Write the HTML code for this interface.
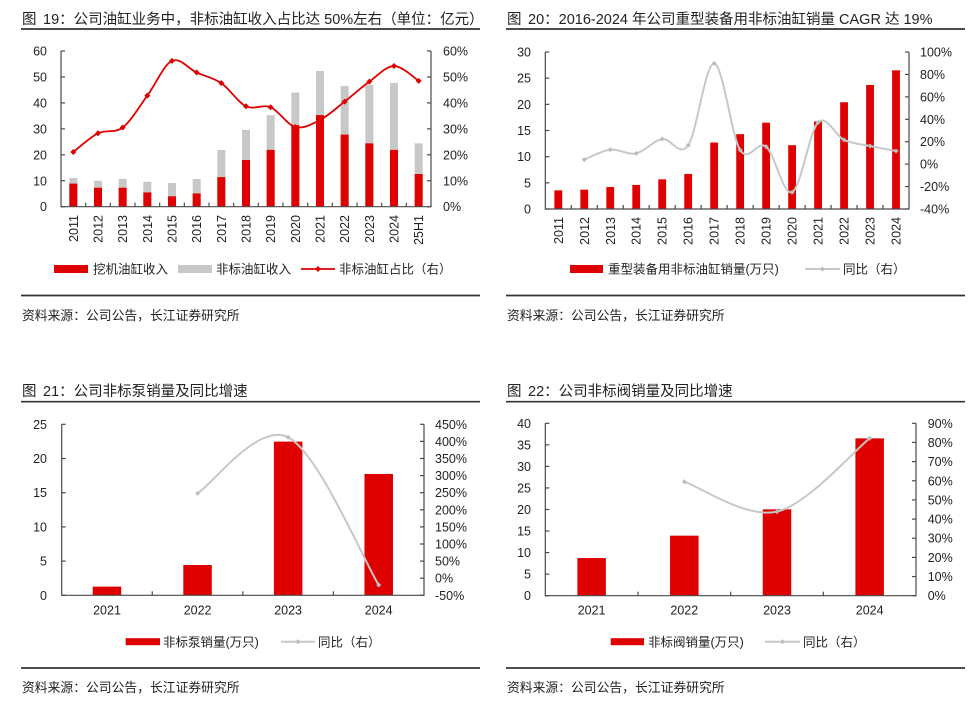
<!DOCTYPE html>
<html><head><meta charset="utf-8">
<style>
html,body{margin:0;padding:0;background:#fff;}
svg{display:block;font-family:"Liberation Sans","Noto Sans CJK SC",sans-serif;}
text{fill:#222;}
.t{font-size:14.5px;}
.a{font-size:12.5px;}
.s{font-size:12.8px;}
</style></head><body>
<svg id="g" width="971" height="706" viewBox="0 0 971 706">
<rect width="971" height="706" fill="#fff"/>
<!-- Titles -->
<text class="t" x="22" y="24">图</text><text class="t" x="43" y="24">19：公司油缸业务中，非标油缸收入占比达 50%左右（单位：亿元）</text>
<text class="t" x="507" y="24">图</text><text class="t" x="528" y="24">20：2016-2024 年公司重型装备用非标油缸销量 CAGR 达 19%</text>
<text class="t" x="22" y="396">图</text><text class="t" x="43" y="396">21：公司非标泵销量及同比增速</text>
<text class="t" x="507" y="396">图</text><text class="t" x="528" y="396">22：公司非标阀销量及同比增速</text>
<g stroke="#333" stroke-width="1.7">
<line x1="21" y1="29" x2="480" y2="29"/><line x1="506" y1="29" x2="965" y2="29"/>
<line x1="21" y1="401.7" x2="480" y2="401.7"/><line x1="506" y1="401.7" x2="965" y2="401.7"/>
<line x1="21" y1="295.5" x2="480" y2="295.5"/><line x1="506" y1="295.5" x2="965" y2="295.5"/>
<line x1="21" y1="668" x2="480" y2="668"/><line x1="506" y1="668" x2="965" y2="668"/>
</g>
<text class="s" x="22" y="320">资料来源：公司公告，长江证券研究所</text>
<text class="s" x="507" y="320">资料来源：公司公告，长江证券研究所</text>
<text class="s" x="22" y="692">资料来源：公司公告，长江证券研究所</text>
<text class="s" x="507" y="692">资料来源：公司公告，长江证券研究所</text>

<!-- Chart 1 axis labels -->
<g class="a" text-anchor="end">
<text x="47" y="211.2">0</text><text x="47" y="185.25">10</text><text x="47" y="159.3">20</text><text x="47" y="133.35">30</text><text x="47" y="107.4">40</text><text x="47" y="81.45">50</text><text x="47" y="55.5">60</text>
</g>
<g class="a">
<text x="443" y="211.2">0%</text><text x="443" y="185.25">10%</text><text x="443" y="159.3">20%</text><text x="443" y="133.35">30%</text><text x="443" y="107.4">40%</text><text x="443" y="81.45">50%</text><text x="443" y="55.5">60%</text>
</g>
<g class="a" text-anchor="end">
<text transform="translate(77.8,215) rotate(-90)">2011</text>
<text transform="translate(102.5,215) rotate(-90)">2012</text>
<text transform="translate(127.2,215) rotate(-90)">2013</text>
<text transform="translate(151.8,215) rotate(-90)">2014</text>
<text transform="translate(176.5,215) rotate(-90)">2015</text>
<text transform="translate(201.2,215) rotate(-90)">2016</text>
<text transform="translate(225.8,215) rotate(-90)">2017</text>
<text transform="translate(250.5,215) rotate(-90)">2018</text>
<text transform="translate(275.2,215) rotate(-90)">2019</text>
<text transform="translate(299.8,215) rotate(-90)">2020</text>
<text transform="translate(324.5,215) rotate(-90)">2021</text>
<text transform="translate(349.2,215) rotate(-90)">2022</text>
<text transform="translate(373.8,215) rotate(-90)">2023</text>
<text transform="translate(398.5,215) rotate(-90)">2024</text>
<text transform="translate(423.2,215) rotate(-90)">25H1</text>
</g>
<!-- Chart 1 legend -->
<rect x="54" y="265" width="34" height="8" fill="#df0000"/>
<text class="a" x="93" y="273.7">挖机油缸收入</text>
<rect x="178" y="265" width="34" height="8" fill="#c8c8c8"/>
<text class="a" x="216" y="273.7">非标油缸收入</text>
<line x1="301" y1="269" x2="335" y2="269" stroke="#df0000" stroke-width="1.8"/>
<path d="M318,266L321,269L318,272L315,269Z" fill="#df0000"/>
<text class="a" x="339" y="273.7">非标油缸占比（右）</text>

<!-- Chart 2 axis labels -->
<g class="a" text-anchor="end">
<text x="531" y="213.5">0</text><text x="531" y="187.3">5</text><text x="531" y="161.2">10</text><text x="531" y="135">15</text><text x="531" y="108.8">20</text><text x="531" y="82.7">25</text><text x="531" y="56.5">30</text>
</g>
<g class="a">
<text x="920" y="213.5">-40%</text><text x="920" y="191.1">-20%</text><text x="920" y="168.6">0%</text><text x="920" y="146.2">20%</text><text x="920" y="123.8">40%</text><text x="920" y="101.4">60%</text><text x="920" y="78.9">80%</text><text x="920" y="56.5">100%</text>
</g>
<g class="a" text-anchor="end">
<text transform="translate(562.8,217) rotate(-90)">2011</text>
<text transform="translate(588.8,217) rotate(-90)">2012</text>
<text transform="translate(614.8,217) rotate(-90)">2013</text>
<text transform="translate(640.7,217) rotate(-90)">2014</text>
<text transform="translate(666.7,217) rotate(-90)">2015</text>
<text transform="translate(692.7,217) rotate(-90)">2016</text>
<text transform="translate(718.7,217) rotate(-90)">2017</text>
<text transform="translate(744.7,217) rotate(-90)">2018</text>
<text transform="translate(770.6,217) rotate(-90)">2019</text>
<text transform="translate(796.6,217) rotate(-90)">2020</text>
<text transform="translate(822.6,217) rotate(-90)">2021</text>
<text transform="translate(848.6,217) rotate(-90)">2022</text>
<text transform="translate(874.6,217) rotate(-90)">2023</text>
<text transform="translate(900.5,217) rotate(-90)">2024</text>
</g>
<rect x="570" y="265" width="33" height="8" fill="#df0000"/>
<text class="a" x="608" y="273.7">重型装备用非标油缸销量(万只)</text>
<line x1="805" y1="269" x2="840" y2="269" stroke="#c8c8c8" stroke-width="2"/>
<path d="M822.5,266.5L825,269L822.5,271.5L820,269Z" fill="#bdbdbd"/>
<text class="a" x="843" y="273.7">同比（右）</text>

<!-- Chart 3 axis labels -->
<g class="a" text-anchor="end">
<text x="47" y="599.8">0</text><text x="47" y="565.6">5</text><text x="47" y="531.4">10</text><text x="47" y="497.2">15</text><text x="47" y="463">20</text><text x="47" y="428.8">25</text>
</g>
<g class="a">
<text x="435" y="599.8">-50%</text><text x="435" y="582.7">0%</text><text x="435" y="565.6">50%</text><text x="435" y="548.5">100%</text><text x="435" y="531.4">150%</text><text x="435" y="514.3">200%</text><text x="435" y="497.2">250%</text><text x="435" y="480.1">300%</text><text x="435" y="463">350%</text><text x="435" y="445.9">400%</text><text x="435" y="428.8">450%</text>
</g>
<g class="a" text-anchor="middle">
<text x="107" y="614.5">2021</text><text x="197.6" y="614.5">2022</text><text x="288.1" y="614.5">2023</text><text x="378.7" y="614.5">2024</text>
</g>
<rect x="125.7" y="638.2" width="34.3" height="7" fill="#df0000"/>
<text class="a" x="163" y="646.4">非标泵销量(万只)</text>
<line x1="281" y1="641.7" x2="315" y2="641.7" stroke="#c8c8c8" stroke-width="2"/>
<path d="M298,639.2L300.5,641.7L298,644.2L295.5,641.7Z" fill="#bdbdbd"/>
<text class="a" x="318" y="646.4">同比（右）</text>

<!-- Chart 4 axis labels -->
<g class="a" text-anchor="end">
<text x="531" y="600.2">0</text><text x="531" y="578.65">5</text><text x="531" y="557.1">10</text><text x="531" y="535.55">15</text><text x="531" y="514">20</text><text x="531" y="492.45">25</text><text x="531" y="470.9">30</text><text x="531" y="449.35">35</text><text x="531" y="427.8">40</text>
</g>
<g class="a">
<text x="927.7" y="600.2">0%</text><text x="927.7" y="581">10%</text><text x="927.7" y="561.9">20%</text><text x="927.7" y="542.7">30%</text><text x="927.7" y="523.6">40%</text><text x="927.7" y="504.4">50%</text><text x="927.7" y="485.3">60%</text><text x="927.7" y="466.1">70%</text><text x="927.7" y="447">80%</text><text x="927.7" y="427.8">90%</text>
</g>
<g class="a" text-anchor="middle">
<text x="591.6" y="614.5">2021</text><text x="684.3" y="614.5">2022</text><text x="777" y="614.5">2023</text><text x="869.7" y="614.5">2024</text>
</g>
<rect x="610.7" y="638.2" width="33.3" height="7" fill="#df0000"/>
<text class="a" x="648" y="646.4">非标阀销量(万只)</text>
<line x1="765" y1="641.7" x2="800" y2="641.7" stroke="#c8c8c8" stroke-width="2"/>
<path d="M782.5,639.2L785,641.7L782.5,644.2L780,641.7Z" fill="#bdbdbd"/>
<text class="a" x="803" y="646.4">同比（右）</text>
</svg>
<script>
(function(){
const NS="http://www.w3.org/2000/svg";
const svg=document.getElementById('g');
function el(t,a){const e=document.createElementNS(NS,t);for(const k in a)e.setAttribute(k,a[k]);svg.appendChild(e);return e;}
function smooth(p){
  let d="M"+p[0][0].toFixed(2)+","+p[0][1].toFixed(2);
  for(let i=0;i<p.length-1;i++){
    const p0=p[i-1]||p[i],p1=p[i],p2=p[i+1],p3=p[i+2]||p[i+1],t=1/6;
    const c1=[p1[0]+(p2[0]-p0[0])*t,p1[1]+(p2[1]-p0[1])*t];
    const c2=[p2[0]-(p3[0]-p1[0])*t,p2[1]-(p3[1]-p1[1])*t];
    d+="C"+c1[0].toFixed(2)+","+c1[1].toFixed(2)+" "+c2[0].toFixed(2)+","+c2[1].toFixed(2)+" "+p2[0].toFixed(2)+","+p2[1].toFixed(2);
  }
  return d;
}
function diamond(x,y,r,f){el('path',{d:`M${x},${y-r}L${x+r},${y}L${x},${y+r}L${x-r},${y}Z`,fill:f});}
const RED="#df0000",GRAY="#c8c8c8",AX="#4a4a4a";
function chart(o){
  const w=(o.x1-o.x0)/o.n;
  const cx=i=>o.x0+(i+0.5)*w;
  // bars
  for(let i=0;i<o.n;i++){
    if(o.tot){const yt=o.yB-o.tot[i]*o.kL;el('rect',{x:cx(i)-o.bw/2,y:yt,width:o.bw,height:o.yB-yt,fill:GRAY});}
    const v=o.bars[i]; if(v==null)continue;
    const y=o.yB-v*o.kL; el('rect',{x:cx(i)-o.bw/2,y:y,width:o.bw,height:o.yB-y,fill:RED});
  }
  // axes
  el('path',{d:`M${o.x0},${o.yT}V${o.yB}H${o.x1}V${o.yT}`,fill:'none',stroke:AX,'stroke-width':1.2});
  for(let i=0;i<o.lt;i++){const y=o.yB-(o.yB-o.yT)*i/(o.lt-1);el('line',{x1:o.x0,x2:o.x0+4,y1:y,y2:y,stroke:AX,'stroke-width':1.2});}
  for(let i=0;i<o.rt;i++){const y=o.yB-(o.yB-o.yT)*i/(o.rt-1);el('line',{x1:o.x1-4,x2:o.x1,y1:y,y2:y,stroke:AX,'stroke-width':1.2});}
  for(let i=1;i<o.n;i++){const x=o.x0+w*i;el('line',{x1:x,x2:x,y1:o.yB,y2:o.yB-4,stroke:AX,'stroke-width':1.2});}
  // line
  const pts=[];
  for(let i=0;i<o.n;i++){const v=o.line[i];if(v==null)continue;pts.push([cx(i),o.ry(v)]);}
  el('path',{d:smooth(pts),fill:'none',stroke:o.lc,'stroke-width':o.lw,'stroke-linejoin':'round','stroke-linecap':'round'});
  pts.forEach(p=>diamond(p[0],p[1],o.mr,o.mc));
}
// Chart 1
chart({x0:61,x1:431,yT:51,yB:206.7,n:15,bw:8,kL:2.595,lt:7,rt:7,
  bars:[8.9,7.3,7.3,5.5,4.0,5.1,11.4,18.0,21.9,31.4,35.3,27.8,24.4,21.9,12.6],
  tot:[11.05,10.0,10.7,9.6,9.1,10.7,21.9,29.6,35.3,44.0,52.3,46.5,46.9,47.7,24.4],
  line:[21.1,28.3,30.5,42.8,56.2,51.7,47.6,38.7,38.3,30.7,33.4,40.5,48.2,54.2,48.5],
  ry:v=>206.7-v*2.595,lc:RED,lw:1.8,mr:3,mc:RED});
// Chart 2
chart({x0:545.3,x1:909,yT:52,yB:209,n:14,bw:7.8,kL:157/30,lt:7,rt:8,
  bars:[3.57,3.7,4.2,4.6,5.67,6.7,12.7,14.3,16.5,12.2,16.75,20.4,23.7,26.5],
  line:[null,4.0,12.9,9.6,22.4,16.8,89.9,12.6,15.6,-25.1,37.1,21.6,16.2,11.7],
  ry:v=>209-(v+40)*157/140,lc:GRAY,lw:2,mr:2.5,mc:"#bdbdbd"});
// Chart 3
chart({x0:61.7,x1:424,yT:424.3,yB:595.3,n:4,bw:28.5,kL:171/25,lt:6,rt:11,
  bars:[1.27,4.43,22.47,17.74],
  line:[null,248,412,-20],
  ry:v=>595.3-(v+50)*171/500,lc:GRAY,lw:2,mr:2.5,mc:"#bdbdbd"});
// Chart 4
chart({x0:545.3,x1:916,yT:423.3,yB:595.7,n:4,bw:28.5,kL:172.4/40,lt:9,rt:10,
  bars:[8.74,13.93,20.04,36.5],
  line:[null,59.5,43.9,82.2],
  ry:v=>595.7-v*172.4/90,lc:GRAY,lw:2,mr:2.5,mc:"#bdbdbd"});
})();
</script>
</body></html>
